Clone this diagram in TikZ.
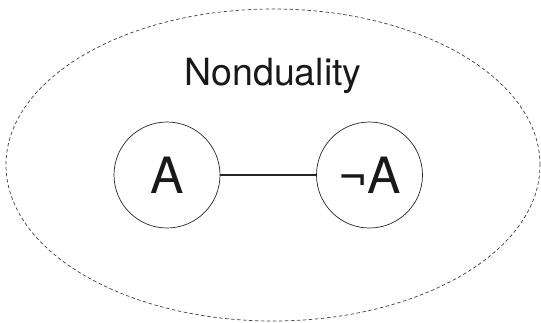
\documentclass[tikz,border=0pt]{standalone}
\usepackage{fontspec}
\setmainfont{TeX Gyre Heros}
\usetikzlibrary{shapes.geometric}
\begin{document}
\begin{tikzpicture}[x=1pt,y=-1pt,
  termbox/.style={circle,draw=black!85,line width=0.7pt,minimum size=106pt,inner sep=0pt,font=\fontsize{50}{50}\selectfont,text=black!90},
  link/.style={draw=black!85,line width=1.2pt},
  outer/.style={ellipse,draw=black!75,line width=0.7pt,dash pattern=on 3.5pt off 2.5pt,minimum width=534pt,minimum height=312pt,inner sep=0pt}]
\useasboundingbox (0,0) rectangle (541,322);
\node[outer] (nd) at (273,165) {};
\node[anchor=base,font=\fontsize{37.5}{37.5}\selectfont,text=black!90] (title) at (273,85) {Nonduality};
\node[termbox] (a) at (167,175) {A};
\node[termbox] (na) at (369.5,175) {¬A};
\draw[link] (a) -- (na);
\end{tikzpicture}
\end{document}
